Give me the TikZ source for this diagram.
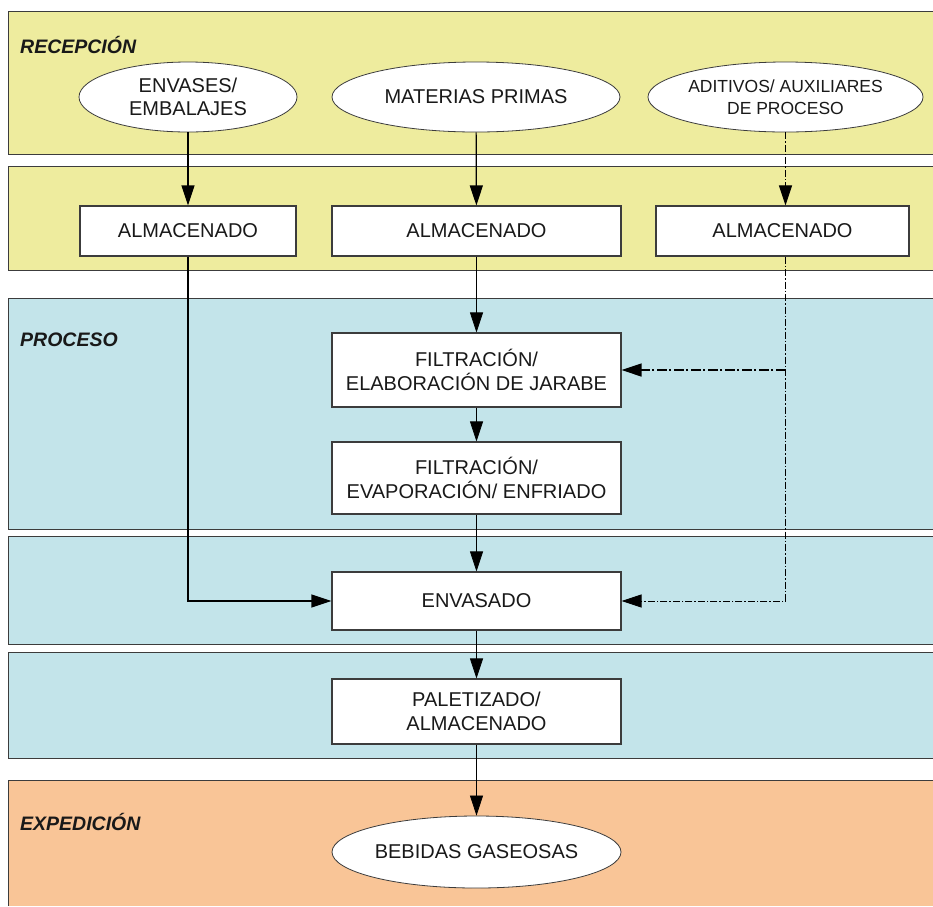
\documentclass[tikz,border=0pt]{standalone}
\usepackage{fontspec}
\setmainfont{Liberation Sans}
\usetikzlibrary{shapes.geometric,arrows.meta}
\definecolor{bandyel}{RGB}{238,236,158}
\definecolor{bandblue}{RGB}{195,228,234}
\definecolor{bandorange}{RGB}{249,197,151}
\definecolor{bordc}{RGB}{60,60,60}
\definecolor{txtc}{RGB}{25,25,25}
\tikzset{
  band/.style={draw=bordc, line width=1pt},
  lbl/.style={anchor=west, font=\fontsize{19.5}{22}\selectfont\bfseries\itshape, text=txtc, inner sep=0pt},
  oval/.style={ellipse, draw=bordc, line width=0.8pt, fill=white, inner sep=0pt, align=center,
    font=\fontsize{20}{23}\selectfont, text=txtc},
  stepbox/.style={rectangle, draw=bordc, line width=1.1pt, fill=white, inner sep=0pt, align=center,
    font=\fontsize{20}{24}\selectfont, text=txtc},
  tip/.style={-{Triangle[length=20pt,width=13pt]}},
  thickcon/.style={tip, line width=1.2pt, black},
  thincon/.style={tip, line width=0.7pt, black},
  dashcon/.style={tip, line width=0.9pt, black, dash pattern=on 7pt off 2pt on 1.5pt off 2pt},
}
\begin{document}
\begin{tikzpicture}[x=1pt,y=-1pt]
\useasboundingbox (0,0) rectangle (933,906);
\fill[white] (0,0) rectangle (933,906);
% bands
\fill[bandyel] (8,11) rectangle (933,154);
\draw[band] (933,11) -- (8,11) -- (8,154) -- (933,154);
\fill[bandyel] (8,166) rectangle (933,270);
\draw[band] (933,166) -- (8,166) -- (8,270) -- (933,270);
\fill[bandblue] (8,298) rectangle (933,529);
\draw[band] (933,298) -- (8,298) -- (8,529) -- (933,529);
\fill[bandblue] (8,536) rectangle (933,644);
\draw[band] (933,536) -- (8,536) -- (8,644) -- (933,644);
\fill[bandblue] (8,652) rectangle (933,758);
\draw[band] (933,652) -- (8,652) -- (8,758) -- (933,758);
\fill[bandorange] (8,780) rectangle (933,906);
\draw[band] (933,780) -- (8,780) -- (8,906);
% labels
\node[lbl] (lrec) at (20,45) {RECEPCIÓN};
\node[lbl] (lpro) at (20,340) {PROCESO};
\node[lbl] (lexp) at (20,822) {EXPEDICIÓN};
% nodes
\node[oval, minimum width=218pt, minimum height=70pt] (e1) at (188,97) {ENVASES/\\EMBALAJES};
\node[oval, minimum width=288pt, minimum height=70pt] (e2) at (476,97) {MATERIAS PRIMAS};
\node[oval, minimum width=260pt, minimum height=70pt, font=\fontsize{17.5}{22}\selectfont] (e3) at (785.5,97) {ADITIVOS/ AUXILIARES\\DE PROCESO};
\node[stepbox, minimum width=216pt, minimum height=50pt] (b1) at (188,231) {ALMACENADO};
\node[stepbox, minimum width=289pt, minimum height=50pt] (b2) at (476.5,231) {ALMACENADO};
\node[stepbox, minimum width=253pt, minimum height=50pt] (b3) at (782.5,231) {ALMACENADO};
\node[stepbox, minimum width=289pt, minimum height=74pt] (f1) at (476.5,370) {FILTRACIÓN/\\ELABORACIÓN DE JARABE};
\node[stepbox, minimum width=289pt, minimum height=72pt] (f2) at (476.5,478) {FILTRACIÓN/\\EVAPORACIÓN/ ENFRIADO};
\node[stepbox, minimum width=289pt, minimum height=58pt] (env) at (476.5,601) {ENVASADO};
\node[stepbox, minimum width=289pt, minimum height=65pt] (pal) at (476.5,711.5) {PALETIZADO/\\ALMACENADO};
\node[oval, minimum width=289pt, minimum height=72pt] (beb) at (476.5,852) {BEBIDAS GASEOSAS};
% connectors left
\draw[thickcon] (e1) -- (b1);
\draw[thickcon] (b1.south) |- (env.west);
% middle
\draw[thickcon] (e2) -- (b2);
\draw[thincon] (b2) -- (f1);
\draw[thincon] (f1) -- (f2);
\draw[thincon] (f2) -- (env);
\draw[thincon] (env) -- (pal);
\draw[thincon] (pal) -- (beb);
% right
\coordinate (r0) at (e3.south |- b3.south);
\coordinate (r1) at (e3.south |- f1.east);
\draw[dashcon] (e3.south) -- (e3.south |- b3.north);
\draw[dashcon] (r0) |- (env.east);
\draw[dashcon, line width=1.4pt, dash pattern=on 10pt off 2.5pt on 2pt off 2.5pt] (r1) -- (f1.east);
\end{tikzpicture}
\end{document}
